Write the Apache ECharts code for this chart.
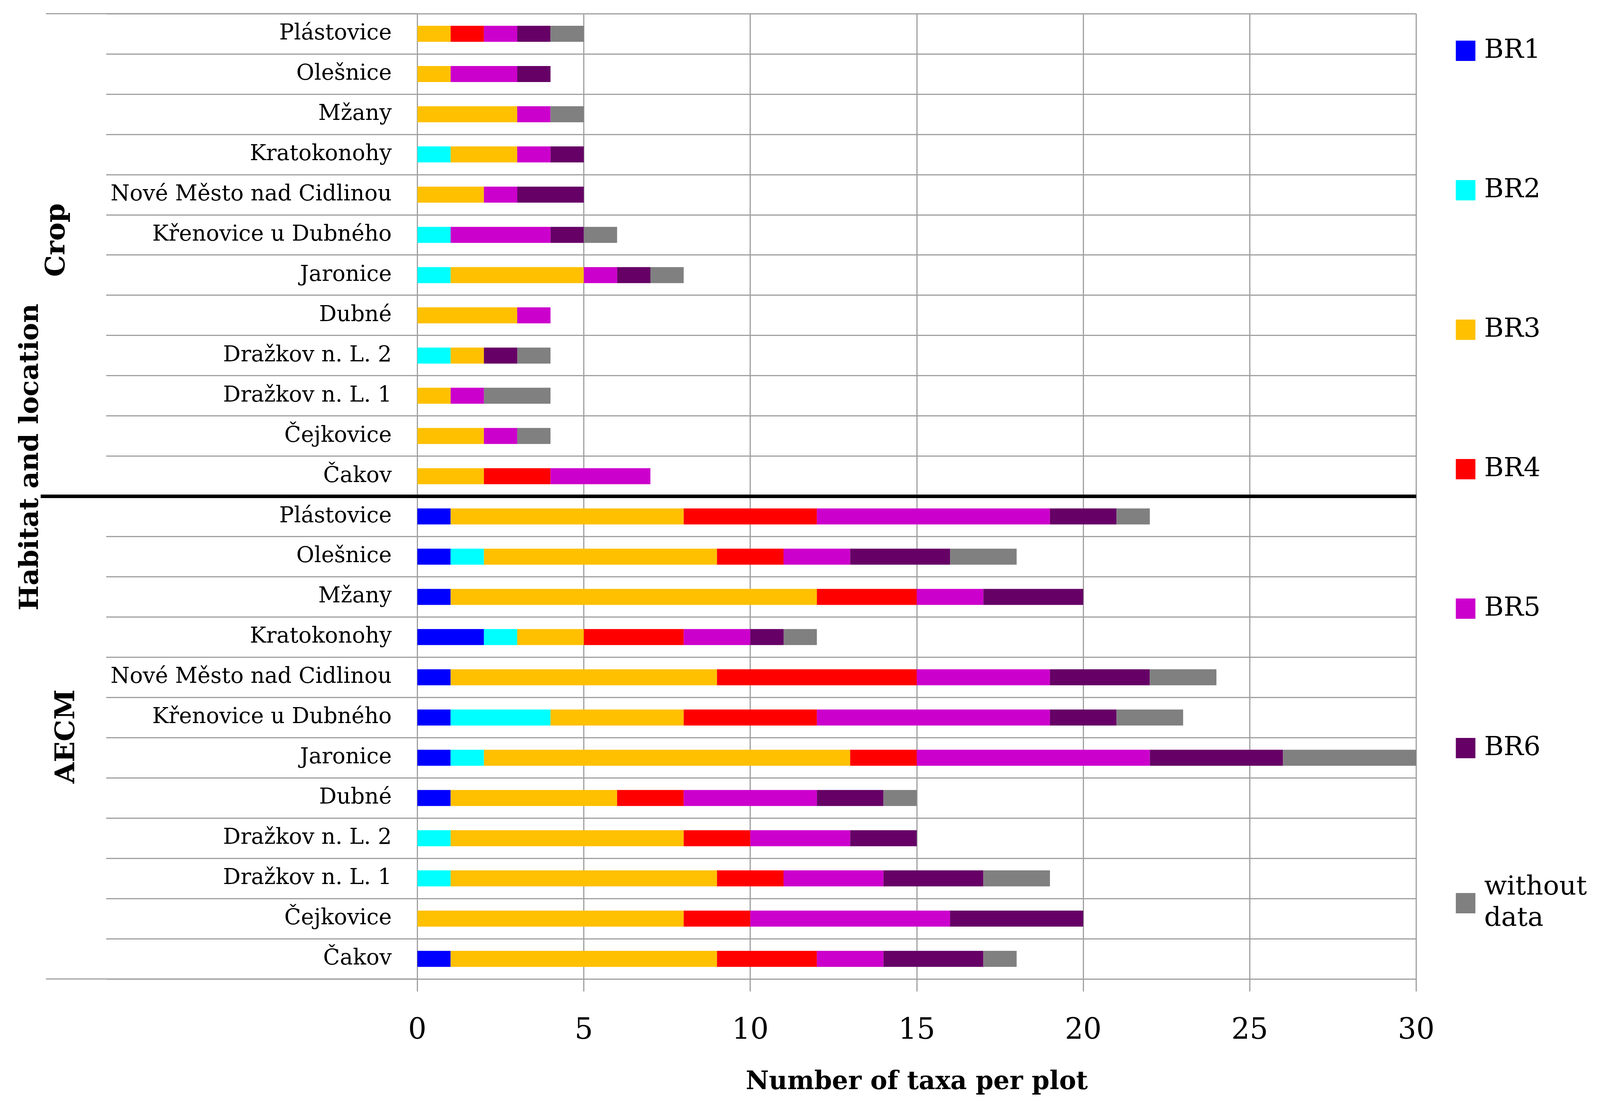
<!DOCTYPE html>
<html><head><meta charset="utf-8">
<script src="https://cdn.jsdelivr.net/npm/echarts@6/dist/echarts.min.js"></script>
<style>html,body{margin:0;padding:0;background:#fff;overflow:hidden}#c{width:100vw;height:100vh}</style>
</head><body><div id="c"></div>
<script>
// Sites, listed top to bottom within each habitat group
const sites = ['Plástovice','Olešnice','Mžany','Kratokonohy','Nové Město nad Cidlinou','Křenovice u Dubného','Jaronice','Dubné','Dražkov n. L. 2','Dražkov n. L. 1','Čejkovice','Čakov'];
const groups = ['Crop','AECM'];
const categories = sites.concat(sites); // first 12 = Crop, last 12 = AECM
const seriesNames = ['BR1','BR2','BR3','BR4','BR5','BR6','without data'];
const seriesColors = ['#0000FF','#00FFFF','#FFC000','#FF0000','#CC00CC','#660066','#808080'];
// values: 12 Crop rows then 12 AECM rows (top to bottom)
const br1 = [0,0,0,0,0,0,0,0,0,0,0,0, 1,1,1,2,1,1,1,1,0,0,0,1];
const br2 = [0,0,0,1,0,1,1,0,1,0,0,0, 0,1,0,1,0,3,1,0,1,1,0,0];
const br3 = [1,1,3,2,2,0,4,3,1,1,2,2, 7,7,11,2,8,4,11,5,7,8,8,8];
const br4 = [1,0,0,0,0,0,0,0,0,0,0,2, 4,2,3,3,6,4,2,2,2,2,2,3];
const br5 = [1,2,1,1,1,3,1,1,0,1,1,3, 7,2,2,2,4,7,7,4,3,3,6,2];
const br6 = [1,1,0,1,2,1,1,0,1,0,0,0, 2,3,3,1,3,2,4,2,2,3,4,3];
const noData = [1,0,1,0,0,1,1,0,1,2,1,0, 1,2,0,1,2,2,4,1,0,2,0,1];
const xMin = 0, xMax = 30, xStep = 5;
const xTitle = 'Number of taxa per plot';
const yTitle = 'Habitat and location';

const seriesValues = [br1,br2,br3,br4,br5,br6,noData];
const FONT = 'DejaVu Serif';
const el = document.getElementById('c');
const W = el.clientWidth, H = el.clientHeight;
const sx = W / 4248, sy = H / 2844;
const X = v => v * sx, Y = v => v * sy;
const GRID = {left:X(1108), right:W - X(3760), top:Y(35), bottom:H - Y(2506)};
const lineGrey = '#a0a0a0';

const chart = echarts.init(el);
const option = {
  backgroundColor:'#fff',
  animation:false,
  grid:GRID,
  legend:{
    orient:'vertical', left:X(3860), top:Y(85),
    itemWidth:X(52), itemHeight:Y(52), itemGap:Y(277), icon:'rect',
    data:seriesNames,
    formatter:n => n === 'without data' ? 'without\ndata' : n,
    textStyle:{fontFamily:FONT, fontSize:68, lineHeight:Y(80), color:'#000', padding:[0,0,0,X(18)]}
  },
  xAxis:{
    type:'value', min:xMin, max:xMax, interval:xStep,
    name:xTitle, nameLocation:'middle', nameGap:Y(233),
    nameTextStyle:{fontFamily:FONT, fontSize:65, fontWeight:'bold', color:'#000'},
    axisLine:{show:true, lineStyle:{color:lineGrey, width:3}},
    axisTick:{show:true, length:Y(32), lineStyle:{color:lineGrey, width:3}},
    axisLabel:{fontFamily:FONT, fontSize:74, color:'#000', margin:Y(97)},
    splitLine:{show:true, lineStyle:{color:lineGrey, width:3}}
  },
  yAxis:{
    type:'category', inverse:true, data:categories,
    axisLine:{show:true, lineStyle:{color:lineGrey, width:3}},
    axisTick:{show:true, length:X(1108 - 282), interval:0, lineStyle:{color:lineGrey, width:3}},
    axisLabel:{fontFamily:FONT, fontSize:56, color:'#000', margin:X(68), interval:0},
    splitLine:{show:true, interval:0, lineStyle:{color:lineGrey, width:3}}
  },
  series:seriesNames.map((n,i)=>({
    name:n, type:'bar', stack:'total', barWidth:Y(41),
    itemStyle:{color:seriesColors[i]},
    data:seriesValues[i]
  }))
};
chart.setOption(option);

// decorations derived from the axes
const nRows = categories.length;
const plotTop = GRID.top, plotBottom = H - GRID.bottom;
const rowH = (plotBottom - plotTop) / nRows;
const splitY = chart.convertToPixel({yAxisIndex:0}, sites.length - 1) + rowH / 2;
const xRight = chart.convertToPixel({xAxisIndex:0}, xMax);
const xLeft0 = chart.convertToPixel({xAxisIndex:0}, xMin);
const cropMid = (plotTop + splitY) / 2;
const aecmMid = (splitY + plotBottom) / 2;
chart.setOption({
  graphic:[
    {type:'line', shape:{x1:X(122), y1:plotTop, x2:xLeft0, y2:plotTop}, style:{stroke:lineGrey, lineWidth:3}},
    {type:'line', shape:{x1:X(122), y1:plotBottom, x2:xLeft0, y2:plotBottom}, style:{stroke:lineGrey, lineWidth:3}},
    {type:'line', shape:{x1:X(108), y1:splitY, x2:xRight, y2:splitY}, style:{stroke:'#000', lineWidth:9}, z:100},
    {type:'text', x:X(82), y:Y(1170), rotation:Math.PI/2,
      style:{text:yTitle, font:'bold 68px "DejaVu Serif"', fill:'#000', textAlign:'center', textVerticalAlign:'middle'}},
    {type:'text', x:X(152), y:cropMid - Y(38), rotation:Math.PI/2,
      style:{text:groups[0], font:'bold 70px "DejaVu Serif"', fill:'#000', textAlign:'center', textVerticalAlign:'middle'}},
    {type:'text', x:X(178), y:aecmMid - Y(3), rotation:Math.PI/2,
      style:{text:groups[1], font:'bold 70px "DejaVu Serif"', fill:'#000', textAlign:'center', textVerticalAlign:'middle'}}
  ]
});
</script></body></html>
